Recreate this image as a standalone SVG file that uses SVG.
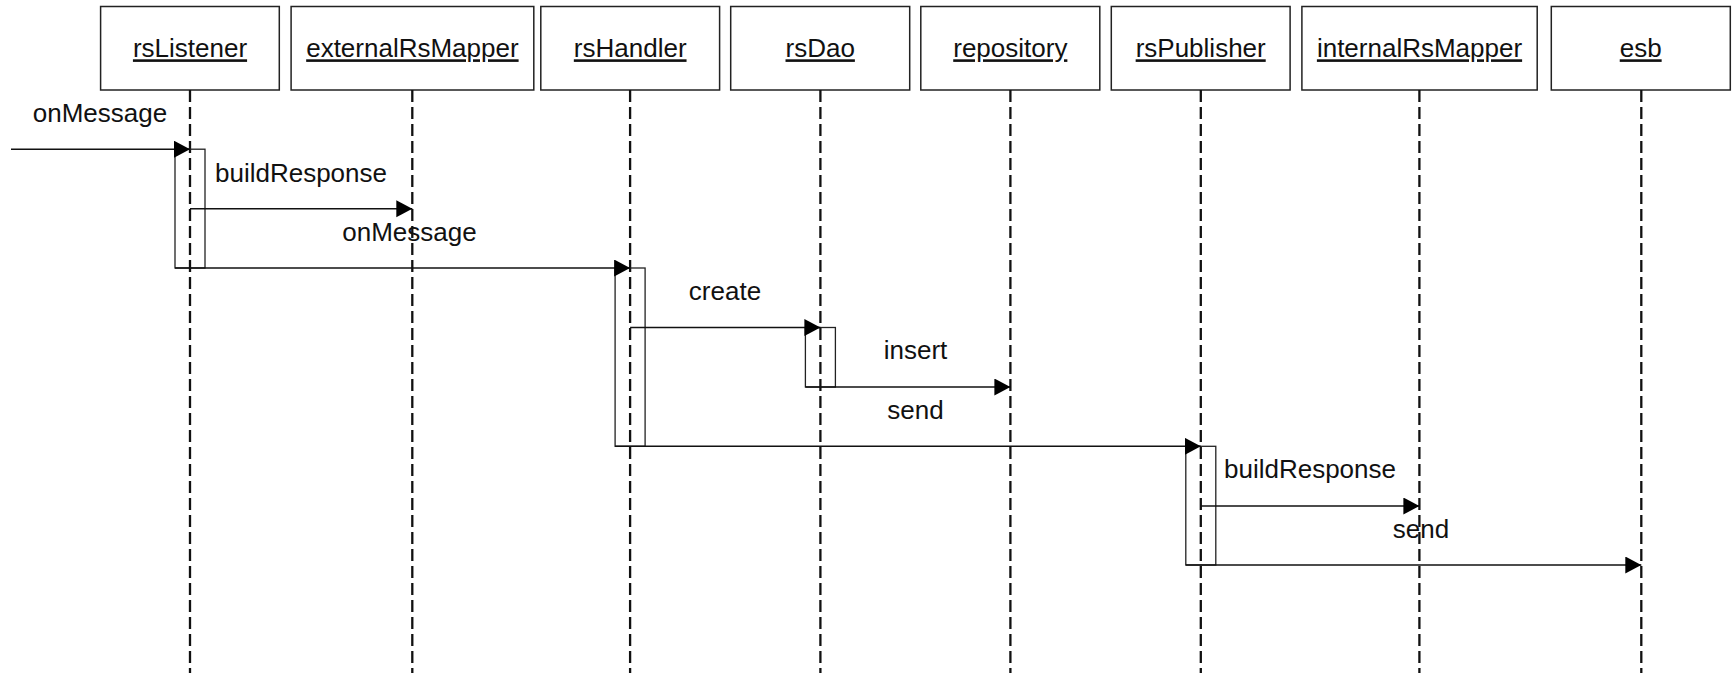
<svg xmlns="http://www.w3.org/2000/svg" width="1733" height="673" viewBox="0 0 1733 673">
  <style>
    .box { fill: #ffffff; stroke: #222222; stroke-width: 1.5; }
    .life { fill: none; stroke: #111111; stroke-width: 2.3; stroke-dasharray: 12 5; }
    .act { fill: none; stroke: #222222; stroke-width: 1.3; }
    .msg { fill: none; stroke: #111111; stroke-width: 1.4; marker-end: url(#head); }
    .name { font-family: "Liberation Sans", Arial, sans-serif; font-size: 26px; fill: #111111; text-anchor: middle; text-decoration: underline; }
    .lbl { font-family: "Liberation Sans", Arial, sans-serif; font-size: 26px; fill: #111111; text-anchor: middle; }
  </style>
  <defs>
    <marker id="head" markerUnits="userSpaceOnUse" markerWidth="17" markerHeight="18" refX="16" refY="8.5" orient="auto">
      <path d="M0,0 L16,8.5 L0,17 Z" fill="#000000"/>
    </marker>
  </defs>
  <rect width="1733" height="673" fill="#ffffff"/>

  <!-- participants: head box, dashed lifeline, activation bars -->
  <g id="rsListener">
    <rect class="box" x="100.6" y="6.5" width="178.7" height="83.5"/>
    <text class="name" x="190" y="57.3">rsListener</text>
    <line class="life" x1="190" y1="90" x2="190" y2="673"/>
    <rect class="act" x="175" y="149.2" width="30" height="118.8"/>
  </g>
  <g id="externalRsMapper">
    <rect class="box" x="291.1" y="6.5" width="242.7" height="83.5"/>
    <text class="name" x="412.4" y="57.3">externalRsMapper</text>
    <line class="life" x1="412.3" y1="90" x2="412.3" y2="673"/>
  </g>
  <g id="rsHandler">
    <rect class="box" x="540.8" y="6.5" width="178.8" height="83.5"/>
    <text class="name" x="630.2" y="57.3">rsHandler</text>
    <line class="life" x1="630.1" y1="90" x2="630.1" y2="673"/>
    <rect class="act" x="615.1" y="268" width="30" height="178.3"/>
  </g>
  <g id="rsDao">
    <rect class="box" x="730.7" y="6.5" width="179" height="83.5"/>
    <text class="name" x="820.2" y="57.3">rsDao</text>
    <line class="life" x1="820.4" y1="90" x2="820.4" y2="673"/>
    <rect class="act" x="805.4" y="327.5" width="30" height="59.5"/>
  </g>
  <g id="repository">
    <rect class="box" x="920.8" y="6.5" width="179" height="83.5"/>
    <text class="name" x="1010.3" y="57.3">repository</text>
    <line class="life" x1="1010.4" y1="90" x2="1010.4" y2="673"/>
  </g>
  <g id="rsPublisher">
    <rect class="box" x="1111.3" y="6.5" width="178.8" height="83.5"/>
    <text class="name" x="1200.7" y="57.3">rsPublisher</text>
    <line class="life" x1="1200.8" y1="90" x2="1200.8" y2="673"/>
    <rect class="act" x="1185.8" y="446.3" width="30" height="118.7"/>
  </g>
  <g id="internalRsMapper">
    <rect class="box" x="1301.9" y="6.5" width="235.3" height="83.5"/>
    <text class="name" x="1419.5" y="57.3">internalRsMapper</text>
    <line class="life" x1="1419.4" y1="90" x2="1419.4" y2="673"/>
  </g>
  <g id="esb">
    <rect class="box" x="1551.3" y="6.5" width="179" height="83.5"/>
    <text class="name" x="1640.7" y="57.3">esb</text>
    <line class="life" x1="1641.3" y1="90" x2="1641.3" y2="673"/>
  </g>

  <!-- messages -->
  <g id="connectors">
    <line class="msg" x1="11" y1="149.2" x2="190" y2="149.2"/>
    <text class="lbl" x="100" y="121.5">onMessage</text>

    <line class="msg" x1="190" y1="208.8" x2="412.3" y2="208.8"/>
    <text class="lbl" x="301" y="181.5">buildResponse</text>

    <line class="msg" x1="175" y1="268" x2="630.1" y2="268"/>
    <text class="lbl" x="409.5" y="240.7">onMessage</text>

    <line class="msg" x1="630.1" y1="327.5" x2="820.4" y2="327.5"/>
    <text class="lbl" x="725" y="300">create</text>

    <line class="msg" x1="805.4" y1="387" x2="1010.4" y2="387"/>
    <text class="lbl" x="915.5" y="359">insert</text>

    <line class="msg" x1="615.1" y1="446.3" x2="1200.8" y2="446.3"/>
    <text class="lbl" x="915.5" y="418.5">send</text>

    <line class="msg" x1="1200.8" y1="506" x2="1419.4" y2="506"/>
    <text class="lbl" x="1310" y="478.3">buildResponse</text>

    <line class="msg" x1="1185.8" y1="565" x2="1641.3" y2="565"/>
    <text class="lbl" x="1421" y="537.5">send</text>
  </g>
</svg>
